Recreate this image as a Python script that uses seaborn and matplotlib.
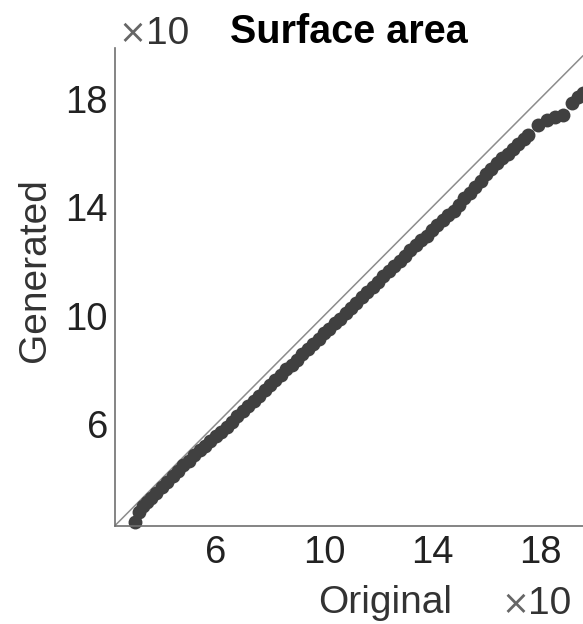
import matplotlib
matplotlib.use("Agg")
import matplotlib.pyplot as plt
import seaborn as sns
import pandas as pd

# Quantile values (units of 10)
original = [3.00, 3.15, 3.30, 3.45, 3.60, 3.80, 4.00, 4.20, 4.40, 4.60, 4.80,
            5.00, 5.20, 5.40, 5.60, 5.80, 6.00, 6.20, 6.40, 6.60, 6.80,
            7.00, 7.20, 7.40, 7.60, 7.80, 8.00, 8.20, 8.40, 8.60, 8.80,
            9.00, 9.20, 9.40, 9.60, 9.80, 10.00, 10.20, 10.40, 10.60, 10.80,
            11.00, 11.20, 11.40, 11.60, 11.80, 12.00, 12.20, 12.40, 12.60, 12.80,
            13.00, 13.20, 13.40, 13.60, 13.80, 14.00, 14.20, 14.40, 14.60, 14.80,
            15.00, 15.20, 15.40, 15.60, 15.80, 16.00, 16.20, 16.40, 16.60, 16.80,
            17.00, 17.20, 17.40, 17.56, 17.93, 18.26, 18.56, 18.85, 19.19, 19.41, 19.60]
generated = [2.40, 2.75, 3.00, 3.15, 3.30, 3.48, 3.70, 3.88, 4.10, 4.28, 4.50,
             4.66, 4.87, 5.04, 5.20, 5.37, 5.55, 5.72, 5.89, 6.09, 6.29,
             6.48, 6.67, 6.85, 7.04, 7.26, 7.45, 7.64, 7.83, 8.02, 8.20,
             8.38, 8.58, 8.78, 8.95, 9.15, 9.35, 9.53, 9.72, 9.90, 10.10,
             10.30, 10.48, 10.68, 10.86, 11.05, 11.25, 11.45, 11.65, 11.85, 12.03,
             12.22, 12.42, 12.60, 12.78, 12.95, 13.15, 13.35, 13.55, 13.70, 13.85,
             14.10, 14.35, 14.52, 14.75, 14.98, 15.22, 15.42, 15.62, 15.80, 15.95,
             16.15, 16.35, 16.52, 16.68, 17.05, 17.23, 17.34, 17.41, 17.86, 18.08, 18.20]
ticks = [6, 10, 14, 18]
tick_labels = ["6", "10", "14", "18"]

sns.set_theme(style="white")
plt.rcParams["font.family"] = ["Liberation Sans", "DejaVu Sans"]

df = pd.DataFrame({"Original": original, "Generated": generated})

fig = plt.figure(figsize=(5.83, 6.24), dpi=100)
ax = fig.add_axes([0.197, 0.1575, 0.803, 0.765])

ax.axline((0, 0), slope=1, color="#8c8c8c", lw=1.1, zorder=1)
sns.scatterplot(data=df, x="Original", y="Generated", ax=ax, color="#404040",
                s=100, linewidth=0, alpha=1, zorder=2, clip_on=False)

ax.set_xlim(2.26, 19.59)
ax.set_ylim(2.26, 19.86)
ax.set_xticks(ticks)
ax.set_xticklabels(tick_labels)
ax.set_yticks(ticks)
ax.set_yticklabels(tick_labels)

for s in ["top", "right"]:
    ax.spines[s].set_visible(False)
for s in ["left", "bottom"]:
    ax.spines[s].set_color("#707070")
    ax.spines[s].set_linewidth(1.2)

ax.tick_params(axis="both", direction="in", length=4, width=1, color="#707070",
               labelsize=27.5, labelcolor="#222222", pad=5)
ax.tick_params(axis="x", pad=7)

ax.set_xlabel("Original", fontsize=28, color="#333333")
ax.set_ylabel("Generated", fontsize=28, color="#333333")
ax.xaxis.set_label_coords(0.577, -0.125)
ax.yaxis.set_label_coords(-0.133, 0.535)

ax.set_title("Surface area", fontsize=28.5, fontweight="bold", color="black", pad=4)

for (x0, y0) in [(0.038, 1.03), (0.855, -0.165)]:
    ax.text(x0, y0, "×", transform=ax.transAxes, fontsize=24, color="#666666",
            ha="center", va="center", family="DejaVu Sans")
    ax.text(x0 + 0.028, y0, "10", transform=ax.transAxes, fontsize=28,
            color="#333333", ha="left", va="center")

fig.savefig("out.png", dpi=100)
